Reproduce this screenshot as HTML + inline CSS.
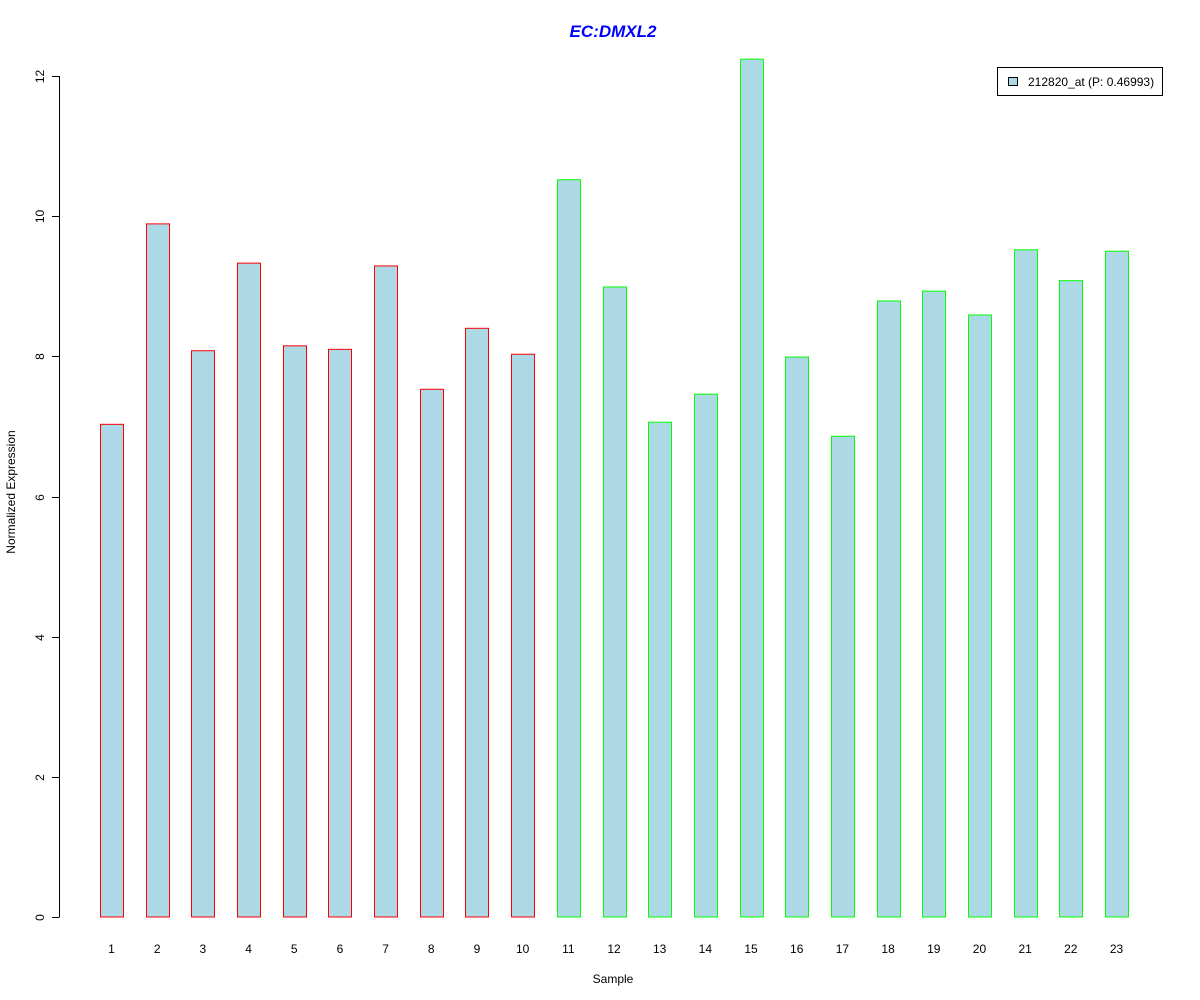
<!DOCTYPE html>
<html><head><meta charset="utf-8"><style>
body{margin:0;background:#fff}
svg{display:block;font-family:"Liberation Sans",Arial,sans-serif}
</style></head><body>
<svg id="chart" width="1200" height="1000" xmlns="http://www.w3.org/2000/svg">
<rect width="1200" height="1000" fill="#fff"/>
<text x="613" y="37" text-anchor="middle" font-size="17" font-weight="bold" font-style="italic" fill="#0000ff">EC:DMXL2</text>
<text x="613" y="983" text-anchor="middle" font-size="12">Sample</text>
<text transform="translate(15,492) rotate(-90)" text-anchor="middle" font-size="12">Normalized Expression</text>
<g id="yaxis"></g>
<g id="bars"></g>
<g id="xlabels"></g>
<g>
<rect x="997.5" y="67.5" width="165" height="28" fill="#fff" stroke="#000"/>
<rect x="1008.5" y="77.5" width="9" height="8" fill="#add8e6" stroke="#000"/>
<text x="1028" y="86" font-size="12">212820_at (P: 0.46993)</text>
</g>
</svg>
<script>
const categories=["1","2","3","4","5","6","7","8","9","10","11","12","13","14","15","16","17","18","19","20","21","22","23"];
const values=[7.03,9.89,8.08,9.33,8.15,8.10,9.29,7.53,8.40,8.03,10.52,8.99,7.06,7.46,12.24,7.99,6.86,8.79,8.93,8.59,9.52,9.08,9.50];
const groups=["a","a","a","a","a","a","a","a","a","a","b","b","b","b","b","b","b","b","b","b","b","b","b"];
const yTicks=[0,2,4,6,8,10,12];
const NS="http://www.w3.org/2000/svg";
const y0=917,yTop=76,yMax=12;
function yScale(v){return y0-(y0-yTop)*v/yMax;}
const x1=111.5,x23=1116.5;
function xScale(i){return x1+(x23-x1)*i/(categories.length-1);}
function mk(t,a){const e=document.createElementNS(NS,t);for(const k in a)e.setAttribute(k,a[k]);return e;}
const ya=document.getElementById('yaxis');
const ax=mk('line',{x1:59.5,x2:59.5,y1:yScale(0),y2:yScale(12),stroke:'#000'});


ya.appendChild(ax);
yTicks.forEach(t=>{
 const y=Math.round(yScale(t))+0.5;
 const l=mk('line',{x1:52,x2:59.5,y1:y,y2:y,stroke:'#000'});
 
 
 ya.appendChild(l);
 const tx=mk('text',{transform:`translate(44,${y}) rotate(-90)`,'text-anchor':'middle','font-size':12});
 
 
 tx.textContent=t;ya.appendChild(tx);
});
const bg=document.getElementById('bars'),xl=document.getElementById('xlabels');
values.forEach((v,i)=>{
 const cx=xScale(i),top=yScale(v);
 const r=mk('rect',{x:Math.round(cx-11.5)+0.5,y:top,width:23,height:yScale(0)-top,fill:'#add8e6',stroke:groups[i]==='a'?'#ff0000':'#00ff00'});
 
 
 bg.appendChild(r);
 const t=mk('text',{x:cx,y:953,'text-anchor':'middle','font-size':12});
 
 
 t.textContent=categories[i];xl.appendChild(t);
});
</script>
</body></html>
